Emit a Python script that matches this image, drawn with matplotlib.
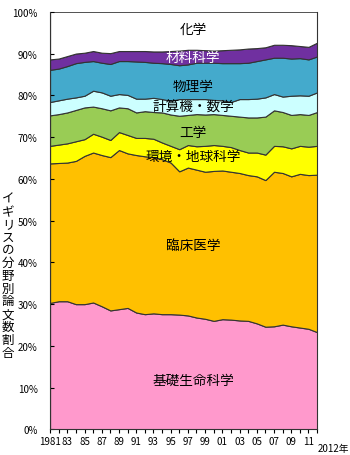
import matplotlib
matplotlib.use("Agg")
import matplotlib.pyplot as plt

plt.rcParams['font.family'] = ['Noto Sans CJK JP', 'DejaVu Sans']

years = list(range(1981, 2013))

# 分野別シェア (%)
life_sci  = [30.3, 30.7, 30.7, 30.0, 30.0, 30.4, 29.5, 28.5, 28.8, 29.1, 28.0, 27.6, 27.8, 27.6, 27.6, 27.5,
             27.3, 26.8, 26.5, 26.0, 26.4, 26.3, 26.1, 26.0, 25.4, 24.6, 24.7, 25.1, 24.7, 24.4, 24.1, 23.3]
clinical  = [33.4, 33.1, 33.2, 34.3, 35.5, 35.9, 36.2, 36.7, 38.1, 37.0, 37.7, 37.8, 37.4, 37.1, 36.3, 34.3,
             35.4, 35.4, 35.2, 35.9, 35.6, 35.4, 35.3, 34.9, 35.2, 35.1, 37.0, 36.3, 35.9, 36.8, 36.8, 37.7]
env_earth = [4.2, 4.4, 4.6, 4.7, 4.0, 4.5, 4.4, 4.1, 4.3, 4.4, 4.1, 4.4, 4.4, 4.0, 4.0, 5.3,
             5.4, 5.6, 6.2, 6.2, 5.9, 5.9, 5.5, 5.4, 5.7, 6.1, 6.2, 6.4, 6.7, 6.7, 6.8, 6.9]
engineer  = [7.3, 7.3, 7.4, 7.5, 7.6, 6.5, 6.8, 7.1, 5.9, 6.4, 6.1, 6.4, 6.4, 7.2, 7.5, 8.0,
             7.2, 7.7, 7.5, 7.4, 7.4, 7.5, 8.0, 8.4, 8.4, 9.1, 8.5, 8.2, 8.0, 7.6, 7.6, 8.1]
comp_math = [3.2, 3.3, 3.3, 3.0, 2.8, 3.8, 3.8, 3.5, 3.2, 3.2, 3.3, 3.0, 3.4, 3.2, 3.3, 4.0,
             3.8, 3.6, 3.7, 3.4, 3.5, 3.3, 4.2, 4.4, 4.5, 4.6, 3.9, 3.7, 4.6, 4.5, 4.6, 4.7]
physics   = [7.7, 7.6, 7.8, 8.2, 8.1, 7.1, 7.1, 7.6, 7.9, 8.1, 8.9, 8.8, 8.4, 8.6, 8.8, 8.1,
             8.3, 8.7, 8.7, 8.9, 8.9, 9.3, 8.6, 8.7, 9.0, 9.1, 8.7, 9.3, 8.9, 8.9, 8.7, 8.6]
materials = [2.5, 2.4, 2.4, 2.3, 2.2, 2.4, 2.4, 2.6, 2.4, 2.4, 2.5, 2.6, 2.7, 2.8, 3.1, 3.5,
             3.5, 3.1, 3.0, 2.9, 3.1, 3.2, 3.3, 3.4, 3.1, 2.9, 3.1, 3.1, 3.2, 2.9, 3.0, 3.3]
chemistry = [11.4, 11.2, 10.6, 10.0, 9.8, 9.4, 9.8, 9.9, 9.4, 9.4, 9.4, 9.4, 9.5, 9.5, 9.4, 9.3,
             9.1, 9.1, 9.2, 9.3, 9.2, 9.1, 9.0, 8.8, 8.7, 8.5, 7.9, 7.9, 8.0, 8.2, 8.4, 7.4]

fields = ['基礎生命科学', '臨床医学', '環境・地球科学', '工学', '計算機・数学', '物理学', '材料科学', '化学']
colors = ['#ff99cc', '#ffc000', '#ffff00', '#99cc55', '#ccffff', '#44aacc', '#7030a0', '#ffffff']
series = [life_sci, clinical, env_earth, engineer, comp_math, physics, materials, chemistry]

fig = plt.figure(figsize=(3.5, 4.56), dpi=100)
ax = fig.add_axes([0.143, 0.056, 0.763, 0.916])

ax.stackplot(years, *series, colors=colors, edgecolor='#333333', linewidth=0.8)

# 帯ごとの分野名
label_x = 1997.6
label_y = [11.8, 44.1, 65.4, 71.2, 77.2, 82.2, 89.1, 95.8]
for name, y in zip(fields, label_y):
    c = 'white' if name == '材料科学' else 'black'
    ax.text(label_x, y, name, ha='center', va='center', fontsize=9.8, color=c)

ax.set_xlim(1981, 2012)
ax.set_ylim(0, 100)
ax.set_yticks(range(0, 101, 10))
ax.set_yticklabels([f'{v}%' for v in range(0, 101, 10)], fontsize=7)
ax.set_xticks(years)
xlabels = []
for yr in years:
    if yr == 1981:
        xlabels.append('1981')
    elif yr % 2 == 1:
        xlabels.append(f'{yr % 100:02d}')
    else:
        xlabels.append('')
ax.set_xticklabels(xlabels, fontsize=7)
ax.text(2012.1, -3.2, '2012年', ha='left', va='top', fontsize=7, clip_on=False)

ax.tick_params(axis='x', direction='out', length=3, width=0.8, pad=2)
ax.tick_params(axis='y', direction='in', length=3, width=0.8, pad=9)
ax.spines['top'].set_visible(False)
for s in ['left', 'right', 'bottom']:
    ax.spines[s].set_color('#333333')
    ax.spines[s].set_linewidth(0.8)

# 縦書きの軸ラベル
fig.text(0.023, 0.394, '\n'.join('イギリスの分野別論文数割合'), ha='center', va='center',
         fontsize=9, linespacing=0.98)

fig.savefig('out.png', dpi=100, facecolor='white')
